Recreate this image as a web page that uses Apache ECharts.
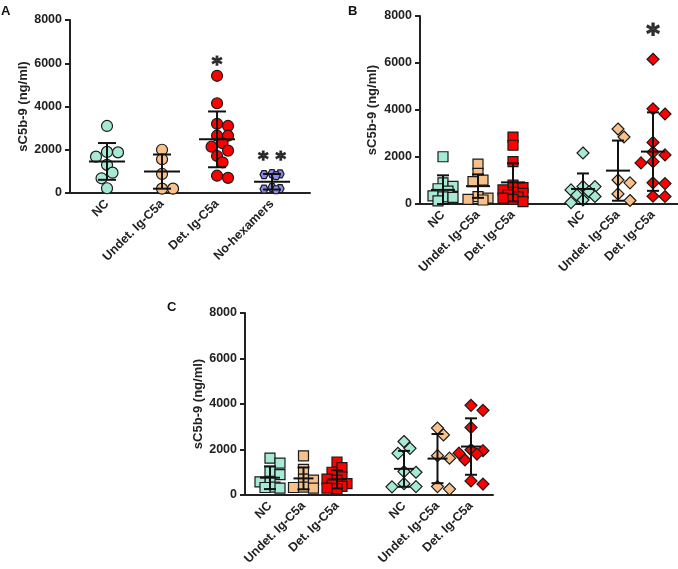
<!DOCTYPE html>
<html><head><meta charset="utf-8">
<script src="https://cdn.jsdelivr.net/npm/echarts@6/dist/echarts.min.js"></script>
<style>html,body{margin:0;padding:0;background:#fff}#c{width:678px;height:569px}</style>
</head><body><div id="c"></div>
<script>
// ---------- DATA ----------
const catsA = ['NC', 'Undet. Ig-C5a', 'Det. Ig-C5a', 'No-hexamers'];
const catsBC = ['NC', 'Undet. Ig-C5a', 'Det. Ig-C5a', '', 'NC', 'Undet. Ig-C5a', 'Det. Ig-C5a'];
const yTicks = [0, 2000, 4000, 6000, 8000];

// Panel A (circles / hexagons)
const aNC = [3100, 1900, 1880, 1680, 1300, 940, 680, 220];
const aUndet = [2000, 1560, 880, 200, 200];
const aDet = [5420, 4150, 3200, 3100, 2650, 2650, 2300, 2140, 1960, 1710, 1420, 800, 700];
const aNoHex = [900, 880, 850, 800, 250, 200, 180, 150];
const aMean = [1460, 990, 2480, 520];
const aSD = [850, 790, 1290, 360];
const aSig = [['*', 3, 5950], ['* *', 4, 1550]];

// Panel B (squares left, diamonds right)
const bNC = [2010, 900, 750, 650, 550, 350, 300, 280, 130];
const bUndet = [1700, 1300, 1020, 950, 310, 250, 200, 170];
const bDet = [2850, 2500, 1800, 800, 700, 600, 500, 450, 400, 300, 250, 200, 100];
const bNC2 = [2170, 750, 740, 600, 520, 380, 320, 170, 60];
const bUndet2 = [3190, 2850, 1020, 900, 430, 150];
const bDet2 = [6160, 4050, 3830, 2620, 2200, 2090, 1800, 1750, 900, 870, 330, 320];
const bMean = [600, 760, 920, 640, 1420, 2230];
const bSD = [620, 500, 810, 660, 1280, 1670];
const bSig = [['*', 7, 7150]];

// Panel C
const cNC = [1620, 1400, 1030, 900, 600, 580, 350, 330, 300];
const cUndet = [1720, 1130, 700, 650, 350, 330, 300];
const cDet = [1450, 1200, 1000, 800, 700, 650, 500, 450, 380, 300, 280];
const cNC2 = [2350, 2050, 1830, 1030, 1000, 500, 370, 360];
const cUndet2 = [2940, 2640, 1730, 1620, 370, 260];
const cDet2 = [3940, 3720, 2970, 1990, 1950, 1840, 1800, 1540, 620, 480];
const cMean = [760, 730, 690, 1150, 1600, 2130];
const cSD = [500, 480, 400, 790, 1080, 1240];

// ---------- STYLE ----------
const TEAL = '#a6ead6', ORANGE = '#f8c18c', RED = '#ff0000', PURPLE = '#8a8af2';
const FONT = '"Liberation Sans", Arial, sans-serif';
const HEX = 'path://M2,0 L6,0 L8,3.46 L6,6.93 L2,6.93 L0,3.46 Z';

const panels = [
  {left: 70, top: 20, width: 240, height: 173, min: 0.327, max: 4.69, cats: catsA, label: [1,2,3,4], meanHalf: 18, capHalf: 9, nameGap: 33},
  {left: 420, top: 16, width: 258, height: 188, min: 0.343, max: 7.714, cats: catsBC, label: [1,2,3,5,6,7], meanHalf: 12, capHalf: 6, nameGap: 41},
  {left: 245, top: 313, width: 248, height: 182, min: 0.254, max: 7.657, cats: catsBC, label: [1,2,3,5,6,7], meanHalf: 10, capHalf: 6, nameGap: 40}
];

// deterministic beeswarm offsets computed from the values
function swarm(values, xc, size, p) {
  const pxPerCat = p.width / (p.max - p.min), pxPerVal = p.height / 8000;
  const order = values.map((v, i) => ({v, i})).sort((a, b) => b.v - a.v);
  const placed = [], res = new Array(values.length);
  const step = size * 0.5, minD = size * 0.75, maxOff = size * 1.25;
  for (const o of order) {
    const py = o.v * pxPerVal;
    let best = 0, bestD = -1;
    for (let k = 0; k < 30; k++) {
      const cand = k === 0 ? 0 : (k % 2 ? 1 : -1) * Math.ceil(k / 2) * step;
      if (Math.abs(cand) > maxOff) break;
      const d = placed.length ? Math.min(...placed.map(q => Math.hypot(q.x - cand, q.y - py))) : Infinity;
      if (d >= minD) { best = cand; bestD = d; break; }
      if (d > bestD) { bestD = d; best = cand; }
    }
    placed.push({x: best, y: py});
    res[o.i] = [xc + best / pxPerCat, o.v];
  }
  return res;
}

const grids = [], xAxes = [], yAxes = [], series = [];
panels.forEach((p, k) => {
  grids.push({left: p.left, top: p.top, width: p.width, height: p.height});
  xAxes.push({
    type: 'value', gridIndex: k, min: p.min, max: p.max,
    splitLine: {show: false}, axisTick: {show: false},
    axisLine: {show: true, onZero: false, lineStyle: {color: '#222', width: 2}},
    axisLabel: {customValues: p.label, rotate: 45, margin: 9, fontFamily: FONT, fontWeight: 'bold', fontSize: 12.5, color: '#222',
      formatter: v => p.cats[Math.round(v) - 1] || ''}
  });
  yAxes.push({
    type: 'value', gridIndex: k, min: 0, max: 8000, interval: 2000,
    splitLine: {show: false},
    axisLine: {show: true, lineStyle: {color: '#222', width: 2}},
    axisTick: {show: true, length: 5, lineStyle: {color: '#222', width: 2}},
    axisLabel: {margin: 8, fontFamily: FONT, fontWeight: 'bold', fontSize: 12.5, color: '#222',
      customValues: yTicks, formatter: v => String(v)},
    name: 'sC5b-9 (ng/ml)', nameLocation: 'middle', nameGap: p.nameGap,
    nameTextStyle: {fontFamily: FONT, fontWeight: 'bold', fontSize: 13, color: '#222'}
  });
});

function addDots(k, values, xc, color, symbol, size) {
  series.push({
    type: 'scatter', xAxisIndex: k, yAxisIndex: k, symbol, symbolSize: size,
    itemStyle: {color, borderColor: '#1a1a1a', borderWidth: 1.2, opacity: 1},
    data: swarm(values, xc, size, panels[k]), z: 2, silent: true
  });
}
function addBars(k, positions, means, sds) {
  const p = panels[k];
  series.push({
    type: 'custom', xAxisIndex: k, yAxisIndex: k, z: 5, silent: true,
    data: positions.map((x, i) => [x, means[i], sds[i]]),
    renderItem: (params, api) => {
      const x = api.value(0), m = api.value(1), s = api.value(2);
      const c = api.coord([x, m]), t = api.coord([x, m + s]), b = api.coord([x, Math.max(0, m - s)]);
      const st = {stroke: '#111', lineWidth: 2};
      return {type: 'group', children: [
        {type: 'line', shape: {x1: c[0] - p.meanHalf, y1: c[1], x2: c[0] + p.meanHalf, y2: c[1]}, style: st},
        {type: 'line', shape: {x1: t[0], y1: t[1], x2: b[0], y2: b[1]}, style: st},
        {type: 'line', shape: {x1: t[0] - p.capHalf, y1: t[1], x2: t[0] + p.capHalf, y2: t[1]}, style: st},
        {type: 'line', shape: {x1: b[0] - p.capHalf, y1: b[1], x2: b[0] + p.capHalf, y2: b[1]}, style: st}
      ]};
    }
  });
}
function addSig(k, sig, size) {
  series.push({
    type: 'scatter', xAxisIndex: k, yAxisIndex: k, symbolSize: 0, silent: true, z: 6,
    data: sig.map(s => ({value: [s[1], s[2]], label: {formatter: s[0]}})),
    label: {show: true, position: 'inside', fontFamily: '"DejaVu Sans", sans-serif', fontWeight: 'bold', fontSize: size,
      color: '#111', textBorderColor: '#111', textBorderWidth: 1.2}
  });
}

// Panel A
addDots(0, aNC, 1, TEAL, 'circle', 11);
addDots(0, aUndet, 2, ORANGE, 'circle', 11);
addDots(0, aDet, 3, RED, 'circle', 11);
addDots(0, aNoHex, 4, PURPLE, HEX, 8);
addBars(0, [1, 2, 3, 4], aMean, aSD);
addSig(0, aSig, 20);
// Panel B
addDots(1, bNC, 1, TEAL, 'rect', 10);
addDots(1, bUndet, 2, ORANGE, 'rect', 10);
addDots(1, bDet, 3, RED, 'rect', 10);
addDots(1, bNC2, 5, TEAL, 'diamond', 12);
addDots(1, bUndet2, 6, ORANGE, 'diamond', 12);
addDots(1, bDet2, 7, RED, 'diamond', 12);
addBars(1, [1, 2, 3, 5, 6, 7], bMean, bSD);
addSig(1, bSig, 26);
// Panel C
addDots(2, cNC, 1, TEAL, 'rect', 10);
addDots(2, cUndet, 2, ORANGE, 'rect', 10);
addDots(2, cDet, 3, RED, 'rect', 10);
addDots(2, cNC2, 5, TEAL, 'diamond', 12);
addDots(2, cUndet2, 6, ORANGE, 'diamond', 12);
addDots(2, cDet2, 7, RED, 'diamond', 12);
addBars(2, [1, 2, 3, 5, 6, 7], cMean, cSD);

const chart = echarts.init(document.getElementById('c'), null, {renderer: 'canvas'});
chart.setOption({
  animation: false,
  backgroundColor: '#fff',
  title: [
    {text: 'A', left: -4, top: 0, textStyle: {fontFamily: FONT, fontWeight: 'bold', fontSize: 13, color: '#111'}},
    {text: 'B', left: 343, top: 0, textStyle: {fontFamily: FONT, fontWeight: 'bold', fontSize: 13, color: '#111'}},
    {text: 'C', left: 162, top: 296, textStyle: {fontFamily: FONT, fontWeight: 'bold', fontSize: 13, color: '#111'}}
  ],
  grid: grids, xAxis: xAxes, yAxis: yAxes, series
});
</script></body></html>
